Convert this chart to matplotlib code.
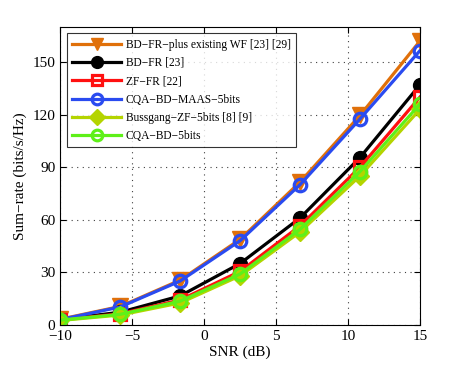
import numpy as np
import matplotlib
matplotlib.use("Agg")
import matplotlib.pyplot as plt

plt.rcParams['font.family'] = ['Liberation Serif', 'DejaVu Serif']

snr = np.linspace(-10, 15, 7)

wf_plus = [3.2, 10.5, 25.5, 48.8, 81.5, 119.5, 162]
bd_fr = [3.0, 7.2, 16.5, 35.0, 61.0, 95.5, 137]
zf_fr = [2.8, 6.3, 14.2, 30.5, 56.5, 90.0, 130]
cqa_maas = [3.0, 10.2, 25.0, 48.0, 80.0, 117.5, 156.5]
bussgang = [2.5, 5.6, 12.5, 28.0, 53.0, 85.0, 123]
cqa_bd = [2.7, 6.0, 13.5, 29.0, 54.5, 87.5, 126]

labels = ["BD\u2212FR\u2212plus existing WF [23] [29]",
          "BD\u2212FR [23]",
          "ZF\u2212FR [22]",
          "CQA\u2212BD\u2212MAAS\u22125bits",
          "Bussgang\u2212ZF\u22125bits [8] [9]",
          "CQA\u2212BD\u22125bits"]

fig = plt.figure(figsize=(4.63, 3.65), dpi=100)
ax = fig.add_axes([0.13, 0.11, 0.777, 0.816])

ax.plot(snr, wf_plus, color='#E0700A', lw=2.3, marker='v', ms=11, label=labels[0])
ax.plot(snr, bd_fr, color='black', lw=2.3, marker='o', ms=10, label=labels[1])
ax.plot(snr, zf_fr, color='#FF1010', lw=2.3, marker='s', ms=8, mfc='none', mew=2.3, label=labels[2])
ax.plot(snr, cqa_maas, color='#2A4BF0', lw=2.3, marker='o', ms=9, mfc='none', mew=2.3, label=labels[3])
ax.plot(snr, bussgang, color='#B4D400', lw=2.3, marker='D', ms=9, label=labels[4])
ax.plot(snr, cqa_bd, color='#5EF018', lw=2.3, marker='o', ms=9, mfc='none', mew=2.3, label=labels[5])

ax.set_xlim(-10, 15)
ax.set_ylim(0, 170)
ax.set_xticks([-10, -5, 0, 5, 10, 15])
ax.set_xticklabels(['\u221210', '\u22125', '0', '5', '10', '15'])
ax.set_yticks([0, 30, 60, 90, 120, 150])
ax.tick_params(direction='in', labelsize=11, top=True, right=True, length=4)
ax.grid(True, linestyle=(0, (1, 4)), color='#404040', lw=0.8)
ax.set_xlabel('SNR (dB)', fontsize=11, labelpad=2)
ax.set_ylabel('Sum\u2212rate (bits/s/Hz)', fontsize=11, labelpad=4)

leg = ax.legend(loc='upper left', fontsize=8.3, handlelength=4.3, frameon=True,
                fancybox=False, edgecolor='black', borderaxespad=0.55,
                labelspacing=0.55, borderpad=0.45, handletextpad=0.4,
                markerscale=0.85)
leg.get_frame().set_linewidth(0.8)

fig.savefig('out.png', dpi=100)
